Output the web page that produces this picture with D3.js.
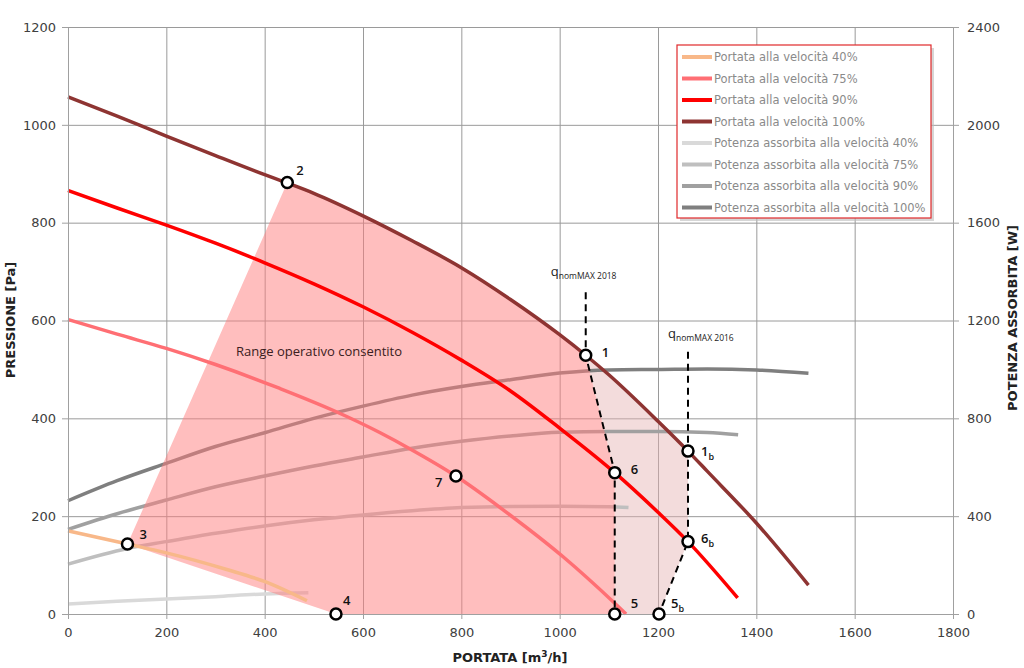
<!DOCTYPE html>
<html><head><meta charset="utf-8">
<script src="https://cdn.jsdelivr.net/npm/d3@7"></script>
<style>body{margin:0;background:#fff}svg{display:block}</style>
</head><body>
<svg id="c" width="1024" height="668"></svg>
<script>
// ---- tick labels ----
const xTicks = [0,200,400,600,800,1000,1200,1400,1600,1800];
const yTicks = [0,200,400,600,800,1000,1200];
const y2Ticks = [0,400,800,1200,1600,2000,2400];

// ---- pressure curves (Pa vs m3/h) ----
const q100 = [0,100,200,300,400,446,500,600,700,800,900,1000,1053,1100,1200,1261,1300,1400,1506];
const p100 = [1057,1018,977,937,898,881,860,814,763,708,643,571,529,489,394,333,292,186,59];
const q90 = [0,100,200,300,400,500,600,700,800,900,1000,1112,1200,1261,1362];
const p90 = [866,830,795,758,718,675,628,576,519,456,380,289,208,148,33];
const q75 = [0,100,200,300,431,540,634,695,789,885,1007,1112,1135];
const p75 = [602,572,543,510,461,416,371,338,282,213,117,22,0];
const q40 = [0,121,200,323,401,486];
const p40 = [170,143,125,91,66,27];

// ---- absorbed power curves (W vs m3/h) ----
const qW100 = [0,100,200,300,400,500,600,700,800,900,1000,1100,1200,1300,1400,1506];
const w100 = [463,545,616,685,741,800,850,895,930,958,985,998,1000,1002,998,984];
const qW90 = [0,100,200,300,400,500,600,700,800,900,1000,1100,1200,1300,1363];
const w90 = [346,410,466,520,564,605,642,678,706,728,743,746,746,742,733];
const qW75 = [0,121,200,300,400,500,600,700,800,900,1000,1100,1140];
const w75 = [204,268,296,330,360,385,405,422,435,440,441,439,435];
const qW40 = [0,100,200,300,400,489];
const w40 = [41,52,61,71,82,87];

// ---- operating points ----
const pointNames = ["1","2","3","4","5","6","7","1b","5b","6b"];
const pointQ = [1053,446,121,545,1112,1112,789,1261,1202,1261];
const pointP = [529,882,143,0,0,289,282,333,0,148];

// ---- qnomMAX dashed lines ----
const qnomNames = ["2018","2016"];
const qnomQ = [1053,1261];
const qnomTopP = [658,536];

const legendNames = [
  "Portata alla velocità 40%","Portata alla velocità 75%","Portata alla velocità 90%","Portata alla velocità 100%",
  "Potenza assorbita alla velocità 40%","Potenza assorbita alla velocità 75%","Potenza assorbita alla velocità 90%","Potenza assorbita alla velocità 100%"
];

const svg = d3.select("#c");
const x = d3.scaleLinear().domain([0,1800]).range([68,953]);
const y = d3.scaleLinear().domain([0,1200]).range([614,27]);
const y2 = d3.scaleLinear().domain([0,2400]).range([614,27]);
const FONT = "DejaVu Sans, sans-serif";
const LBL = "Open Sans, Liberation Sans, sans-serif";

const zip = (a,b)=>a.map((v,i)=>[v,b[i]]);
const pt = name => { const i = pointNames.indexOf(name); return [x(pointQ[i]), y(pointP[i])]; };

// grid
const gx = svg.append("g").attr("transform","translate(0,614)")
  .call(d3.axisBottom(x).tickValues(xTicks).tickSize(-587).tickFormat(""));
gx.select(".domain").remove();
gx.selectAll("line").attr("stroke","#9a9a9a").attr("stroke-width",1);
const gy = svg.append("g").attr("transform","translate(68,0)")
  .call(d3.axisLeft(y).tickValues(yTicks).tickSize(-885).tickFormat(""));
gy.select(".domain").remove();
gy.selectAll("line").attr("stroke","#9a9a9a").attr("stroke-width",1);

const curve = d3.curveMonotoneX;
const lineP = d3.line().x(d=>x(d[0])).y(d=>y(d[1])).curve(curve);
const lineW = d3.line().x(d=>x(d[0])).y(d=>y2(d[1])).curve(curve);
const areaP = d3.area().x(d=>x(d[0])).y0(y(0)).y1(d=>y(d[1])).curve(curve);

// clip paths for regions
const defs = svg.append("defs");
const topY = 0;
const [x1,y1]=pt("1"), [x2,y2p]=pt("2"), [x3,y3]=pt("3"), [x4,y4]=pt("4"),
      [x5,y5]=pt("5"), [x6,y6]=pt("6"), [x1b,y1b]=pt("1b"), [x5b,y5b]=pt("5b"), [x6b,y6b]=pt("6b");
defs.append("clipPath").attr("id","clipDark").append("polygon")
  .attr("points",[[x3,y3],[x2,y2p],[x2,topY],[x1,topY],[x1,y1],[x6,y6],[x5,y5],[x4,y4]].map(p=>p.join(",")).join(" "));
defs.append("clipPath").attr("id","clipLight").append("polygon")
  .attr("points",[[x1,topY],[x1b,topY],[x1b,y1b],[x6b,y6b],[x5b,y5b],[x5,y5],[x6,y6],[x1,y1]].map(p=>p.join(",")).join(" "));

// light region
svg.append("path").datum(zip(q100,p100)).attr("d",areaP)
  .attr("fill","rgb(228,178,178)").attr("fill-opacity",0.45).attr("clip-path","url(#clipLight)");

// power curves
const powerSeries = [
  {q:qW40,w:w40,c:"#D9D9D9"},{q:qW75,w:w75,c:"#BFBFBF"},{q:qW90,w:w90,c:"#A0A0A0"},{q:qW100,w:w100,c:"#7F7F7F"}
];
powerSeries.forEach(s=>{
  svg.append("path").datum(zip(s.q,s.w)).attr("d",lineW).attr("fill","none")
    .attr("stroke",s.c).attr("stroke-width",3.5).attr("stroke-linecap","butt");
});

// dark region
svg.append("path").datum(zip(q100,p100)).attr("d",areaP)
  .attr("fill","rgb(255,125,125)").attr("fill-opacity",0.5).attr("clip-path","url(#clipDark)");

// pressure curves
const pressSeries = [
  {q:q40,p:p40,c:"#F8B889"},{q:q75,p:p75,c:"#FF6F74"},{q:q90,p:p90,c:"#FF0000"},{q:q100,p:p100,c:"#8E3432"}
];
pressSeries.forEach(s=>{
  svg.append("path").datum(zip(s.q,s.p)).attr("d",lineP).attr("fill","none")
    .attr("stroke",s.c).attr("stroke-width",3.5);
});

// axes
const fmt = d3.format("d");
const axStyle = g=>{
  g.select(".domain").attr("stroke","#a0a0a0");
  g.selectAll(".tick line").attr("stroke","#a0a0a0");
  g.selectAll("text").attr("font-family",FONT).attr("font-size",13).attr("fill","#404040");
};
svg.append("g").attr("transform","translate(0,614)")
  .call(d3.axisBottom(x).tickValues(xTicks).tickFormat(fmt).tickSize(5).tickPadding(9).tickSizeOuter(0)).call(axStyle);
svg.append("g").attr("transform","translate(68,0)")
  .call(d3.axisLeft(y).tickValues(yTicks).tickFormat(fmt).tickSize(6).tickPadding(6).tickSizeOuter(0)).call(axStyle);
svg.append("g").attr("transform","translate(953,0)")
  .call(d3.axisRight(y2).tickValues(y2Ticks).tickFormat(fmt).tickSize(6).tickPadding(8).tickSizeOuter(0)).call(axStyle);

// axis titles
svg.append("text").attr("x",510).attr("y",662).attr("text-anchor","middle")
  .attr("font-family",FONT).attr("font-weight","bold").attr("font-size",13).attr("fill","#222")
  .html('PORTATA [m<tspan dy="-5" font-size="9">3</tspan><tspan dy="5">/h]</tspan>');
svg.append("text").attr("transform","translate(15,320) rotate(-90)").attr("text-anchor","middle")
  .attr("font-family",FONT).attr("font-weight","bold").attr("font-size",13).attr("fill","#222")
  .text("PRESSIONE [Pa]");
svg.append("text").attr("transform","translate(1017,318) rotate(-90)").attr("text-anchor","middle")
  .attr("font-family",FONT).attr("font-weight","bold").attr("font-size",13).attr("fill","#222")
  .text("POTENZA ASSORBITA [W]");

// dashed lines
const dash = d3.line().x(d=>x(d[0])).y(d=>y(d[1]));
const dashPaths = [
  [[qnomQ[0],qnomTopP[0]],[pointQ[0],pointP[0]],[pointQ[5],pointP[5]],[pointQ[4],pointP[4]]],
  [[qnomQ[1],qnomTopP[1]],[pointQ[7],pointP[7]],[pointQ[9],pointP[9]],[pointQ[8],pointP[8]]]
];
dashPaths.forEach(d=>{
  svg.append("path").datum(d).attr("d",dash).attr("fill","none")
    .attr("stroke","#000").attr("stroke-width",2).attr("stroke-dasharray","7,5");
});

// qnomMAX labels
const qOff = [[-35,-16],[-20,-14]];
qnomNames.forEach((n,i)=>{
  const t = svg.append("text").attr("x",x(qnomQ[i])+qOff[i][0]).attr("y",y(qnomTopP[i])+qOff[i][1])
    .attr("font-family",LBL).attr("font-size",13).attr("fill","#222");
  t.append("tspan").text("q");
  t.append("tspan").attr("dy",3).attr("font-size",8.5).text("nomMAX "+n);
});

// range text
svg.append("text").attr("x",236).attr("y",356).attr("font-family",LBL).attr("font-size",13)
  .attr("fill","#3a2020").text("Range operativo consentito");

// points
const labelOff = {"1":[16,2],"2":[9,-8],"3":[12,-5],"4":[7,-9],"5":[16,-6],"6":[16,1],"7":[-21,11],"1b":[13,5],"5b":[12,-6],"6b":[13,1]};
pointNames.forEach((n,i)=>{
  const cx = x(pointQ[i]), cy = y(pointP[i]);
  svg.append("circle").attr("cx",cx).attr("cy",cy).attr("r",5.5)
    .attr("fill","#fff").attr("stroke","#000").attr("stroke-width",2.5);
  const t = svg.append("text").attr("x",cx+labelOff[n][0]).attr("y",cy+labelOff[n][1])
    .attr("font-family",LBL).attr("font-weight",600).attr("font-size",13).attr("fill","#111");
  t.append("tspan").text(n[0]);
  if(n.length>1) t.append("tspan").attr("dy",4).attr("font-size",9).text(n.slice(1));
});

// legend
const lg = svg.append("g");
lg.append("rect").attr("x",680).attr("y",48).attr("width",254).attr("height",173).attr("fill","#bbb").attr("opacity",0.6);
lg.append("rect").attr("x",677).attr("y",45).attr("width",254).attr("height",173).attr("fill","#fff")
  .attr("stroke","#E0282A").attr("stroke-width",1.2);
const legColors = ["#F8B889","#FF6F74","#FF0000","#8E3432","#D9D9D9","#BFBFBF","#A0A0A0","#7F7F7F"];
legendNames.forEach((n,i)=>{
  const yy = 57 + i*21.5;
  lg.append("line").attr("x1",682).attr("x2",712).attr("y1",yy).attr("y2",yy)
    .attr("stroke",legColors[i]).attr("stroke-width",4);
  lg.append("text").attr("x",714).attr("y",yy).attr("dy","0.35em")
    .attr("font-family",FONT).attr("font-size",11.5).attr("fill","#8a8a8a").text(n);
});
</script>
</body></html>
